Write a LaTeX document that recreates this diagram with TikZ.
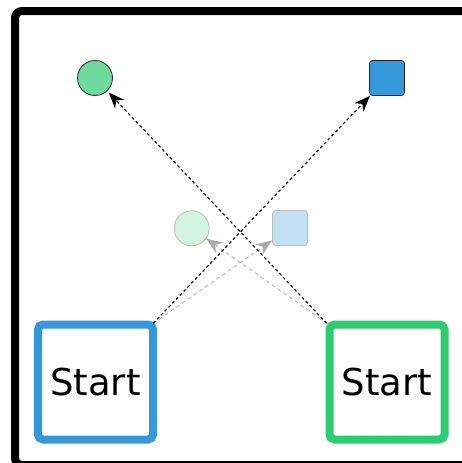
\documentclass[tikz,border=0pt]{standalone}
\usepackage{fontspec}
\setmainfont{DejaVu Sans}
\usetikzlibrary{arrows.meta}
\definecolor{fgreen}{HTML}{2ECC71}
\definecolor{fblue}{HTML}{3498DB}
\definecolor{cgreen}{HTML}{6EDB9C}
\definecolor{pgreen}{HTML}{D4F4E2}
\definecolor{pblue}{HTML}{C3E0F4}
\definecolor{pgray}{HTML}{BBBBBB}
\definecolor{agray}{HTML}{AAAAAA}
\begin{document}
\begin{tikzpicture}[x=1pt,y=-1pt,
  startbox/.style={draw, line width=8pt, rounded corners=5pt, minimum size=115pt,
    inner sep=0pt, font=\fontsize{37}{44}\selectfont},
  goalcirc/.style={circle, minimum size=35pt, inner sep=0pt, line width=0.8pt},
  goalsq/.style={rectangle, rounded corners=3pt, minimum size=35pt, inner sep=0pt, line width=0.8pt},
  movearrow/.style={line width=1.1pt, dash pattern=on 3pt off 2.5pt,
    -{Stealth[length=16pt,width=12.5pt,inset=5pt]}},
  ghostarrow/.style={line width=1pt, draw=pgray, dash pattern=on 4pt off 3pt,
    -{Stealth[length=16pt,width=12.5pt,inset=5pt,fill=agray,color=agray]}}]
\useasboundingbox (0,0) rectangle (462,463);
\fill[white] (0,0) rectangle (462,463);
\begin{scope}
\clip (0,0) rectangle (462,463);
\draw[line width=8pt, rounded corners=7pt] (15,11) rectangle (490,465);
\end{scope}
% nodes
\node[startbox, draw=fblue] (bs) at (95.5,382) {Start};
\node[startbox, draw=fgreen] (gs) at (387,382) {Start};
\node[goalcirc, draw=black!85, fill=cgreen] (gc) at (95,78) {};
\node[goalsq, draw=black!85, fill=fblue] (bq) at (387,78) {};
\node[goalcirc, draw=pgray, fill=pgreen] (pc) at (191.7,228.3) {};
\node[goalsq, draw=pgray, fill=pblue] (pq) at (290,228) {};
% ghost arrows
\draw[ghostarrow] ([shift={(-3.7,2.8)}]bs.north east) -- (pq);
\draw[ghostarrow] ([shift={(1.2,2.8)}]gs.north west) -- (pc);
% main arrows
\draw[movearrow] ([shift={(-3.7,2.8)}]bs.north east) -- (bq);
\draw[movearrow, shorten >=2pt] ([shift={(1.2,2.8)}]gs.north west) -- (gc);
\end{tikzpicture}
\end{document}
